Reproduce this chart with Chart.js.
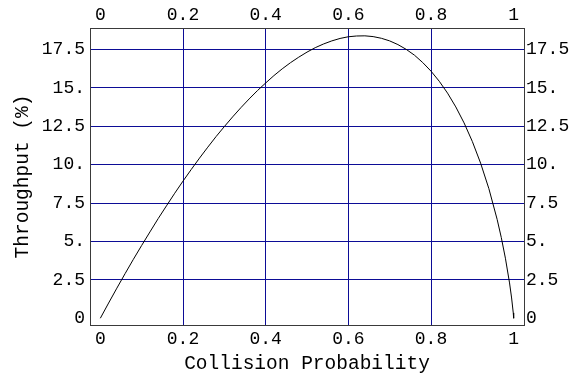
<!DOCTYPE html>
<html>
<head>
<meta charset="utf-8">
<script src="https://cdn.jsdelivr.net/npm/chart.js@4"></script>
<style>
  html, body { margin: 0; padding: 0; background: #fff; }
  canvas { display: block; }
</style>
</head>
<body>
<canvas id="chart" width="576" height="379"></canvas>
<script>
"use strict";

// collision probability vs throughput (%)
const probability = [
  0, 0.02, 0.04, 0.06, 0.08, 0.10, 0.12, 0.14, 0.16, 0.18,
  0.20, 0.22, 0.24, 0.26, 0.28, 0.30, 0.32, 0.34, 0.36, 0.38,
  0.40, 0.42, 0.44, 0.46, 0.48, 0.50, 0.52, 0.54, 0.56, 0.58,
  0.60, 0.62, 0.64, 0.66, 0.68, 0.70, 0.72, 0.74, 0.76, 0.78,
  0.80, 0.82, 0.84, 0.86, 0.88, 0.90, 0.92, 0.94, 0.96, 0.97,
  0.98, 0.99, 0.995, 0.999, 1,
];
const throughput = [
  0, 0.99, 1.96, 2.91, 3.84, 4.74, 5.62, 6.49, 7.32, 8.14,
  8.93, 9.69, 10.43, 11.14, 11.83, 12.48, 13.11, 13.71, 14.28, 14.82,
  15.32, 15.80, 16.24, 16.64, 17.00, 17.33, 17.62, 17.86, 18.06, 18.22,
  18.33, 18.38, 18.39, 18.34, 18.23, 18.06, 17.82, 17.51, 17.13, 16.65,
  16.09, 15.43, 14.66, 13.76, 12.72, 11.51, 10.10, 8.44, 6.44, 5.26,
  3.91, 2.30, 1.32, 0.35, 0,
];

const xTicks = [0, 0.2, 0.4, 0.6, 0.8, 1];
const xTickLabels = ["0", "0.2", "0.4", "0.6", "0.8", "1"];
const yTicks = [0, 2.5, 5, 7.5, 10, 12.5, 15, 17.5];
const yTickLabels = ["0", "2.5", "5.", "7.5", "10.", "12.5", "15.", "17.5"];

const MONO = "'Liberation Mono', 'DejaVu Sans Mono', monospace";
const GRID = "#0c0c96";
const FRAME = "#3a3a3a";

const points = probability.map((p, i) => ({ x: p, y: throughput[i] }));

function fixTicks(values) {
  return (scale) => { scale.ticks = values.map((v) => ({ value: v })); };
}
function labelFor(values, labels) {
  return (v) => {
    const i = values.findIndex((t) => Math.abs(t - v) < 1e-9);
    return i < 0 ? "" : labels[i];
  };
}
// inner grid only: no lines on the 0 / 1 edges
const xGridColor = (ctx) => (ctx.tick && (ctx.tick.value === 0 || ctx.tick.value === 1) ? "transparent" : GRID);
const yGridColor = (ctx) => (ctx.tick && ctx.tick.value === 0 ? "transparent" : GRID);

const tickFont = { family: MONO, size: 18 };
const titleFont = { family: MONO, size: 19.5 };

new Chart(document.getElementById("chart"), {
  type: "scatter",
  data: {
    datasets: [{
      data: points,
      showLine: true,
      borderColor: "#000",
      borderWidth: 1,
      pointRadius: 0,
      tension: 0,
      fill: false,
    }],
  },
  options: {
    responsive: false,
    animation: false,
    layout: { padding: 0 },
    plugins: { legend: { display: false }, tooltip: { enabled: false } },
    scales: {
      x: {
        type: "linear", position: "bottom", min: -0.025, max: 1.025,
        afterBuildTicks: fixTicks(xTicks),
        afterFit: (s) => { s.height = 54; },
        ticks: { font: tickFont, color: "#000", padding: 3, maxRotation: 0,
          callback: labelFor(xTicks, xTickLabels) },
        grid: { color: xGridColor, lineWidth: 1, drawTicks: false },
        border: { display: true, color: FRAME, width: 1 },
        title: { display: true, text: "Collision Probability", font: titleFont, color: "#000",
          padding: { top: 0, bottom: 3 } },
      },
      x2: {
        type: "linear", position: "top", min: -0.025, max: 1.025,
        afterBuildTicks: fixTicks(xTicks),
        afterFit: (s) => { s.height = 28; },
        ticks: { font: tickFont, color: "#000", padding: 2, maxRotation: 0,
          callback: labelFor(xTicks, xTickLabels) },
        grid: { color: "transparent", drawTicks: false },
        border: { display: true, color: FRAME, width: 1 },
      },
      y: {
        type: "linear", position: "left", min: -0.44, max: 18.9,
        afterBuildTicks: fixTicks(yTicks),
        afterFit: (s) => { s.width = 90; },
        ticks: { font: tickFont, color: "#000", padding: 5,
          callback: labelFor(yTicks, yTickLabels) },
        grid: { color: yGridColor, lineWidth: 1, drawTicks: false },
        border: { display: true, color: FRAME, width: 1 },
        title: { display: true, text: "Throughput (%)", font: titleFont, color: "#000",
          padding: { top: 11, bottom: 0 } },
      },
      y2: {
        type: "linear", position: "right", min: -0.44, max: 18.9,
        afterBuildTicks: fixTicks(yTicks),
        afterFit: (s) => { s.width = 52; },
        ticks: { font: tickFont, color: "#000", padding: 2,
          callback: labelFor(yTicks, yTickLabels) },
        grid: { color: "transparent", drawTicks: false },
        border: { display: true, color: FRAME, width: 1 },
      },
    },
  },
});
</script>
</body>
</html>
